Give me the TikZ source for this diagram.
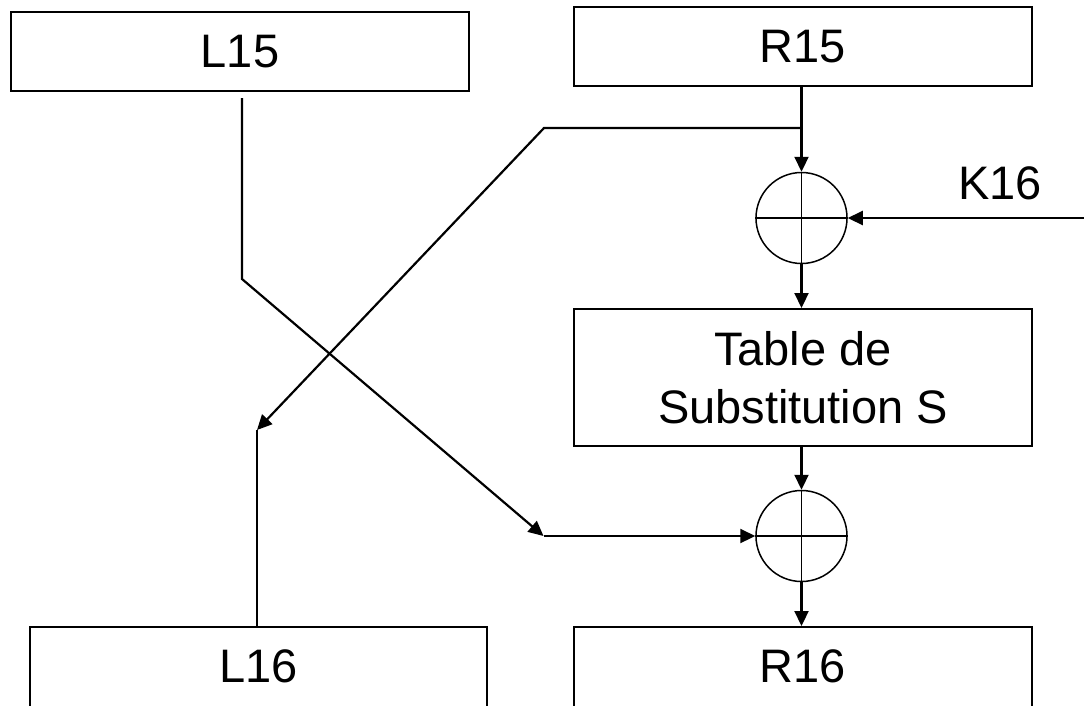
\documentclass[tikz,border=0pt]{standalone}
\usepackage{fontspec}
\setmainfont{Liberation Sans}
\usetikzlibrary{arrows.meta}
\begin{document}
\begin{tikzpicture}[x=1pt,y=-1pt,
  box/.style={draw, line width=2pt, minimum width=458pt, minimum height=79pt, inner sep=0pt, font=\fontsize{47}{58}\selectfont},
  xorc/.style={circle, draw, line width=1.5pt, minimum size=91pt, inner sep=0pt},
  conn/.style={line width=2.2pt, -{Triangle[length=15pt,width=14pt]}},
  wire/.style={line width=2.2pt},
  lbl/.style={font=\fontsize{47}{58}\selectfont, inner sep=0pt}
]
\path[use as bounding box] (0,0) rectangle (1084,705);
\clip (0,0) rectangle (1084,705);

\node[box] (L15) at (240,51.5) {L15};
\node[box] (R15) at (803,46.5) {R15};
\node[box, align=center, minimum height=137pt] (T) at (803,377.5) {Table de\\Substitution S};
\node[box, minimum width=457pt, minimum height=89pt] (L16) at (258.5,671.5) {\raisebox{10pt}{L16}};
\node[box, minimum height=89pt] (R16) at (803,671.5) {\raisebox{10pt}{R16}};

\node[xorc] (X1) at (801.5,218) {};
\node[xorc] (X2) at (801.5,536) {};
\draw[line width=1.5pt] (X1.north) -- (X1.south) (X1.west) -- (X1.east);
\draw[line width=1.5pt] (X2.north) -- (X2.south) (X2.west) -- (X2.east);

\node[lbl] (K16) at (1000,183) {K16};

\coordinate (b1) at (801.5,128);
\coordinate (b2) at (544,128);
\coordinate (b3) at (257,430);
\coordinate (a1) at (242,98);
\coordinate (a2) at (242,279);
\coordinate (a3) at (543.5,536);
\coordinate (k) at (1084,218);

\draw[conn] (X1 |- R15.south) -- (X1.north);
\draw[conn] (b1) -- (b2) -- (b3);
\draw[wire] (b3) -- (b3 |- L16.north);
\draw[conn] (a1) -- (a2) -- (a3);
\draw[conn] (a3) -- (X2.west);
\draw[conn] (k) -- (X1.east);
\draw[conn] (X1.south) -- (X1 |- T.north);
\draw[conn] (X1 |- T.south) -- (X2.north);
\draw[conn] (X2.south) -- (X2 |- R16.north);
\end{tikzpicture}
\end{document}
